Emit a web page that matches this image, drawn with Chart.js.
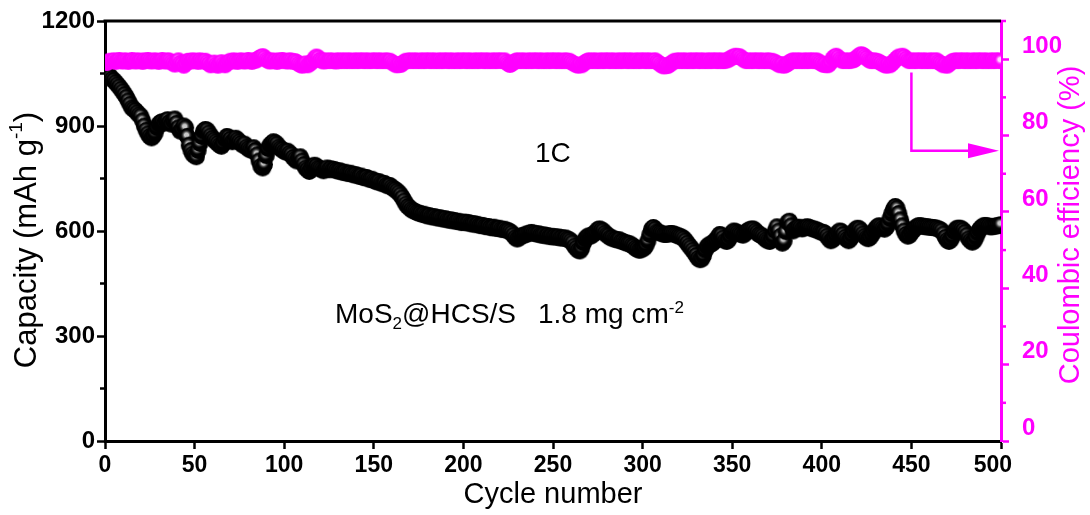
<!DOCTYPE html>
<html>
<head>
<meta charset="utf-8">
<script src="https://cdn.jsdelivr.net/npm/chart.js@4.4.1/dist/chart.umd.min.js"></script>
<style>
  html, body { margin: 0; padding: 0; background: #ffffff; }
  #wrap { width: 1090px; height: 515px; position: relative; }
</style>
</head>
<body>
<div id="wrap"><canvas id="cycling" width="1090" height="515"></canvas></div>
<script>
// Discharge capacity (mAh g-1), cycles 1-500, 25 cycles per row
const capacity = [
  1050,1046,1040,1034,1030,1024,1018,1012,1005,998,990,982,972,962,952,948,944,938,932,928,915,900,888,878,870,
  866,872,880,895,905,910,912,908,915,918,910,905,915,920,908,895,885,890,900,895,870,845,830,820,815,
  812,830,850,870,885,890,888,880,872,865,860,855,850,845,842,850,862,870,868,862,855,858,865,860,855,
  850,845,848,840,835,832,830,838,830,818,800,785,780,790,815,835,845,850,855,852,848,840,835,832,828,
  825,828,822,818,810,805,800,808,812,800,790,780,775,770,778,785,788,785,780,778,775,772,776,780,775,
  778,775,776,773,771,772,769,767,768,765,764,765,762,760,761,758,756,757,753,752,753,749,747,748,744,
  742,740,741,737,735,736,731,729,730,725,721,718,714,709,703,695,686,677,670,666,661,658,656,653,651,
  650,647,648,645,643,644,641,640,641,638,637,638,635,634,635,632,631,632,629,630,627,628,626,624,625,
  625,623,624,621,620,621,618,619,616,615,616,613,612,613,610,609,611,608,607,608,605,604,605,602,601,
  598,594,588,581,577,580,585,587,588,591,592,594,596,594,593,591,592,589,588,589,586,587,584,585,583,
  584,582,583,580,581,579,580,577,575,571,566,557,551,545,543,551,566,577,583,586,585,589,593,597,604,
  606,603,600,594,589,586,581,580,577,576,574,575,571,570,567,566,564,563,559,556,551,548,545,546,549,
  552,560,572,590,605,610,605,598,596,594,592,590,590,591,592,593,592,590,588,586,584,582,578,572,565,
  558,552,545,538,530,522,518,520,530,545,555,560,562,565,570,575,582,590,588,580,572,570,575,585,595,
  600,598,595,592,590,588,592,598,602,604,606,605,600,595,590,588,585,580,575,572,570,575,585,600,612,
  600,585,565,572,598,625,628,615,600,606,608,611,609,606,608,611,612,610,608,606,605,603,601,598,596,
  596,592,585,578,572,575,580,588,595,600,598,590,582,576,572,578,588,598,605,608,606,600,592,585,580,
  578,582,590,598,606,612,615,612,608,605,610,620,635,650,662,670,665,650,632,615,600,590,585,588,596,
  602,608,612,615,615,614,613,612,612,611,610,610,609,608,606,604,600,592,582,574,570,575,585,598,606,
  608,608,606,602,596,588,578,572,568,572,582,594,604,610,614,616,615,614,612,612,613,614,615,616,618
];

// Coulombic efficiency (%), cycles 1-500, 25 cycles per row
const coulombicEfficiency = [
  99.0,99.4,99.6,99.5,99.7,99.3,99.6,99.8,99.5,99.4,99.7,99.6,99.3,99.5,99.8,99.6,99.4,99.7,99.5,99.6,99.3,99.7,99.5,99.8,99.6,
  99.4,99.6,99.7,99.5,99.3,99.6,99.8,99.5,99.4,99.7,99.6,99.2,98.9,98.6,99.3,99.7,99.0,98.7,98.3,98.8,99.5,99.6,99.4,99.7,99.5,
  99.6,99.3,99.7,99.5,99.4,99.6,99.2,98.8,98.4,98.7,99.1,98.6,98.3,98.8,99.2,98.7,98.4,98.9,99.3,99.6,99.4,99.7,99.5,99.3,99.6,
  99.7,99.5,99.4,99.6,99.8,99.5,99.3,99.7,99.6,99.9,100.3,100.6,100.8,100.4,99.9,99.6,99.4,99.7,99.5,99.6,99.3,99.7,99.5,99.8,99.6,
  99.5,99.4,99.7,99.6,99.3,99.5,99.2,98.8,98.5,98.3,98.6,98.9,98.4,98.7,99.1,99.5,100.2,100.7,100.4,99.8,99.6,99.4,99.7,99.5,99.6,
  99.7,99.5,99.6,99.4,99.7,99.6,99.5,99.7,99.6,99.5,99.7,99.6,99.5,99.6,99.7,99.5,99.6,99.7,99.6,99.5,99.7,99.6,99.5,99.6,99.7,
  99.6,99.5,99.7,99.6,99.5,99.6,99.7,99.5,99.6,99.2,98.9,98.6,98.4,98.7,98.5,98.9,99.3,99.6,99.5,99.7,99.6,99.5,99.7,99.6,99.5,
  99.6,99.7,99.5,99.6,99.7,99.6,99.5,99.7,99.6,99.5,99.6,99.7,99.5,99.6,99.7,99.6,99.5,99.7,99.6,99.5,99.6,99.7,99.5,99.6,99.7,
  99.6,99.5,99.7,99.6,99.5,99.6,99.7,99.5,99.6,99.7,99.6,99.5,99.7,99.6,99.5,99.6,99.7,99.5,99.6,99.7,99.6,99.5,99.7,99.2,98.8,
  98.5,98.8,99.2,99.5,99.7,99.6,99.5,99.7,99.6,99.5,99.6,99.7,99.5,99.6,99.7,99.6,99.5,99.7,99.6,99.5,99.6,99.7,99.5,99.6,99.7,
  99.6,99.5,99.7,99.6,99.5,99.6,99.7,99.5,99.6,99.3,99.0,98.7,98.5,98.3,98.6,98.4,98.8,99.2,99.5,99.7,99.6,99.5,99.7,99.6,99.5,
  99.6,99.7,99.5,99.6,99.7,99.6,99.5,99.7,99.6,99.5,99.6,99.7,99.5,99.6,99.7,99.6,99.5,99.7,99.6,99.5,99.6,99.7,99.5,99.6,99.7,
  99.6,99.5,99.7,99.6,99.5,99.6,99.7,99.3,99.0,98.6,98.3,98.1,98.4,98.2,98.6,98.9,99.3,99.6,99.5,99.7,99.6,99.5,99.7,99.6,99.5,
  99.6,99.7,99.5,99.6,99.7,99.6,99.5,99.7,99.6,99.5,99.6,99.7,99.5,99.6,99.7,99.6,99.5,99.7,99.6,99.5,99.6,99.7,99.9,100.2,100.5,
  100.7,100.9,100.6,100.8,100.4,100.0,99.7,99.5,99.6,99.7,99.5,99.6,99.7,99.6,99.5,99.7,99.6,99.5,99.6,99.7,99.5,99.6,99.4,99.2,98.9,
  98.6,98.4,98.7,98.3,98.5,98.8,99.2,99.5,99.7,99.6,99.5,99.7,99.6,99.5,99.6,99.7,99.5,99.6,99.7,99.6,99.5,99.7,99.4,99.1,98.8,
  98.5,98.7,98.4,98.6,99.2,100.1,100.6,100.9,100.5,100.0,99.7,99.5,99.6,99.7,99.5,99.6,99.7,99.8,100.2,100.6,101.0,101.3,101.1,100.7,100.3,
  99.9,99.6,99.5,99.7,99.6,99.5,99.3,99.0,98.7,98.5,98.3,98.6,98.4,98.8,99.3,99.8,100.3,100.7,100.5,100.9,100.6,100.1,99.7,99.5,99.6,
  99.7,99.5,99.6,99.7,99.6,99.5,99.7,99.6,99.5,99.6,99.7,99.5,99.6,99.7,99.3,99.0,98.7,98.4,98.6,98.3,98.7,99.1,99.5,99.6,99.7,
  99.5,99.6,99.7,99.6,99.5,99.7,99.6,99.5,99.6,99.7,99.5,99.6,99.7,99.6,99.5,99.7,99.6,99.5,99.6,99.7,99.5,99.6,99.7,99.6,99.5
];

const cycles = capacity.map((_, i) => i + 1);

// Axis ticks
const cycleTicks = [0, 50, 100, 150, 200, 250, 300, 350, 400, 450, 500];
const capacityTicks = [0, 300, 600, 900, 1200];
const capacityMinorTicks = [150, 450, 750, 1050];
const efficiencyTicks = [0, 20, 40, 60, 80, 100];
const efficiencyMinorTicks = [10, 30, 50, 70, 90, 110];

const MAGENTA = '#ff00ff';
const SANS = '"Liberation Sans", Arial, Helvetica, sans-serif';

// Shaded ball marker used for the scatter points
function ballSprite(r, base, shine, fade) {
  const s = Math.ceil(r * 2) + 2;
  const c = document.createElement('canvas');
  c.width = s; c.height = s;
  const g = c.getContext('2d');
  const cx = s / 2, cy = s / 2;
  g.beginPath();
  g.arc(cx, cy, r, 0, Math.PI * 2);
  g.fillStyle = base;
  g.fill();
  const grad = g.createRadialGradient(cx - 1, cy - 1.5, 0, cx - 1, cy - 1.5, r * 0.7);
  grad.addColorStop(0, shine);
  grad.addColorStop(0.35, shine);
  grad.addColorStop(1, fade);
  g.beginPath();
  g.arc(cx, cy, r, 0, Math.PI * 2);
  g.fillStyle = grad;
  g.fill();
  return c;
}
const blackBall = ballSprite(8.5, '#000000', 'rgba(200,200,200,1)', 'rgba(0,0,0,0)');
const pinkBall = ballSprite(8, MAGENTA, 'rgba(255,215,255,1)', 'rgba(255,0,255,0)');

// Text runs with super/subscripts
function drawRuns(ctx, runs, x, y, align) {
  let total = 0;
  runs.forEach(r => {
    ctx.font = (r.weight || 'normal') + ' ' + r.size + 'px ' + SANS;
    r.w = r.gap !== undefined ? r.gap : ctx.measureText(r.t).width;
    total += r.w;
  });
  let cx = align === 'center' ? x - total / 2 : x;
  runs.forEach(r => {
    if (r.gap === undefined) {
      ctx.font = (r.weight || 'normal') + ' ' + r.size + 'px ' + SANS;
      ctx.fillText(r.t, cx, y + (r.dy || 0));
    }
    cx += r.w;
  });
}

const decorations = {
  id: 'decorations',
  afterDraw(chart) {
    const { ctx, chartArea: a, scales } = chart;
    const yS = scales.y, y2S = scales.y2, xS = scales.x;
    ctx.save();

    // top frame line
    ctx.strokeStyle = '#000';
    ctx.lineWidth = 3;
    ctx.beginPath();
    ctx.moveTo(a.left - 1.5, a.top);
    ctx.lineTo(a.right, a.top);
    ctx.stroke();

    // minor ticks
    ctx.lineWidth = 2.5;
    capacityMinorTicks.forEach(v => {
      const py = yS.getPixelForValue(v);
      ctx.beginPath(); ctx.moveTo(a.left - 5, py); ctx.lineTo(a.left, py); ctx.stroke();
    });
    ctx.strokeStyle = MAGENTA;
    efficiencyMinorTicks.forEach(v => {
      const py = y2S.getPixelForValue(v);
      ctx.beginPath(); ctx.moveTo(a.right, py); ctx.lineTo(a.right + 5, py); ctx.stroke();
    });

    // arrow pointing to the efficiency axis
    const ax = xS.getPixelForValue(450);
    const ay0 = y2S.getPixelForValue(96.5);
    const ay1 = y2S.getPixelForValue(76);
    const tip = a.right - 2;
    ctx.strokeStyle = MAGENTA;
    ctx.fillStyle = MAGENTA;
    ctx.lineWidth = 2.5;
    ctx.beginPath();
    ctx.moveTo(ax, ay0); ctx.lineTo(ax, ay1); ctx.lineTo(tip - 28, ay1);
    ctx.stroke();
    ctx.beginPath();
    ctx.moveTo(tip - 31, ay1 - 7.5); ctx.lineTo(tip, ay1); ctx.lineTo(tip - 31, ay1 + 7.5);
    ctx.closePath(); ctx.fill();

    // axis titles
    ctx.textBaseline = 'middle';
    ctx.fillStyle = '#000';
    ctx.save();
    ctx.translate(27, 240);
    ctx.rotate(-Math.PI / 2);
    drawRuns(ctx, [
      { t: 'Capacity (mAh g', size: 31 },
      { t: '-1', size: 19, dy: -10 },
      { t: ')', size: 31 }
    ], 0, 0, 'center');
    ctx.restore();

    ctx.save();
    ctx.fillStyle = MAGENTA;
    ctx.translate(1071, 225);
    ctx.rotate(-Math.PI / 2);
    drawRuns(ctx, [{ t: 'Coulombic efficiency (%)', size: 29 }], 0, 0, 'center');
    ctx.restore();

    drawRuns(ctx, [{ t: 'Cycle number', size: 29 }], (a.left + a.right) / 2, 495, 'center');

    // annotations
    ctx.textBaseline = 'alphabetic';
    drawRuns(ctx, [{ t: '1C', size: 28 }], 535, 162, 'left');
    drawRuns(ctx, [
      { t: 'MoS', size: 28 },
      { t: '2', size: 17, dy: 6 },
      { t: '@HCS/S', size: 28 },
      { gap: 22 },
      { t: '1.8 mg cm', size: 28 },
      { t: '-2', size: 17, dy: -10 }
    ], 335, 323, 'left');

    ctx.restore();
  }
};

const tickGrid = (color) => ({
  display: true,
  drawOnChartArea: false,
  drawTicks: true,
  tickLength: 8,
  tickWidth: 2.5,
  tickColor: color
});

new Chart(document.getElementById('cycling'), {
  type: 'scatter',
  data: {
    datasets: [
      {
        label: 'Coulombic efficiency',
        data: cycles.map((c, i) => ({ x: c, y: coulombicEfficiency[i] })),
        yAxisID: 'y2',
        pointStyle: pinkBall,
        pointRadius: 8,
        showLine: false,
        clip: 0
      },
      {
        label: 'Capacity',
        data: cycles.map((c, i) => ({ x: c, y: capacity[i] })),
        yAxisID: 'y',
        pointStyle: blackBall,
        pointRadius: 8.5,
        showLine: false,
        clip: 0
      }
    ]
  },
  options: {
    responsive: false,
    animation: false,
    devicePixelRatio: 1,
    layout: { padding: { top: 21, left: 0, right: 0, bottom: 0 } },
    plugins: { legend: { display: false }, tooltip: { enabled: false } },
    events: [],
    scales: {
      x: {
        type: 'linear',
        position: 'bottom',
        min: 0,
        max: 500,
        afterBuildTicks: s => { s.ticks = cycleTicks.map(v => ({ value: v })); },
        afterFit: s => { s.height = 74; },
        border: { display: true, color: '#000', width: 3 },
        grid: tickGrid('#000'),
        ticks: {
          color: '#000',
          padding: 3,
          maxRotation: 0,
          callback: v => (v === 500 ? '500\u2002\u2009' : String(v)),
          font: { family: SANS, size: 23, weight: 'bold' }
        }
      },
      y: {
        type: 'linear',
        position: 'left',
        min: 0,
        max: 1200,
        afterBuildTicks: s => { s.ticks = capacityTicks.map(v => ({ value: v })); },
        afterFit: s => { s.width = 105; },
        border: { display: true, color: '#000', width: 3 },
        grid: tickGrid('#000'),
        ticks: {
          color: '#000',
          padding: 2,
          callback: v => String(v),
          font: { family: SANS, size: 24, weight: 'bold', lineHeight: 0.7 }
        }
      },
      y2: {
        type: 'linear',
        position: 'right',
        min: 0,
        max: 110,
        afterBuildTicks: s => { s.ticks = efficiencyTicks.map(v => ({ value: v })); },
        afterFit: s => { s.width = 89; },
        border: { display: true, color: MAGENTA, width: 3 },
        grid: tickGrid(MAGENTA),
        ticks: {
          color: MAGENTA,
          padding: 13,
          labelOffset: -13,
          callback: v => String(v),
          font: { family: SANS, size: 24, weight: 'bold', lineHeight: 0.6 }
        }
      }
    }
  },
  plugins: [decorations]
});
</script>
</body>
</html>
